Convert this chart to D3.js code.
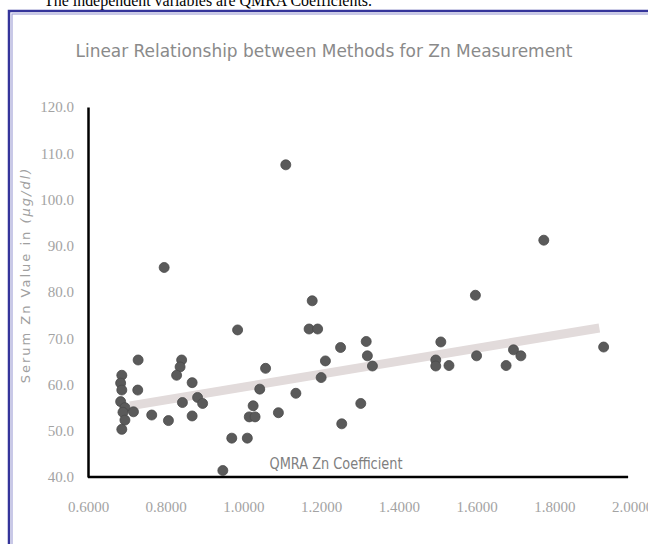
<!DOCTYPE html>
<html>
<head>
<meta charset="utf-8">
<script src="https://cdn.jsdelivr.net/npm/d3@7"></script>
<style>
  body { margin: 0; background: #fff; }
  svg { display: block; }
</style>
</head>
<body>
<div id="chart"></div>
<script>
// QMRA Zn coefficient (x) vs serum Zn value (y)
const qmra = [
  0.687, 0.684, 0.687, 0.684, 0.695, 0.690, 0.695, 0.687, 0.717, 0.729,
  0.728, 0.764, 0.807, 0.796, 0.841, 0.837, 0.828, 0.868, 0.843, 0.882,
  0.895, 0.868, 0.970, 1.010, 0.947, 0.985, 1.025, 1.015, 1.030, 1.042,
  1.057, 1.090, 1.109, 1.135, 1.169, 1.177, 1.191, 1.200, 1.211, 1.250,
  1.253, 1.302, 1.316, 1.319, 1.332, 1.495, 1.495, 1.508, 1.529, 1.597,
  1.600, 1.676, 1.695, 1.714, 1.773, 1.927
];
const serumZn = [
  62.0, 60.3, 58.8, 56.3, 55.0, 54.0, 52.3, 50.3, 54.1, 65.3,
  58.8, 53.4, 52.2, 85.3, 65.3, 63.8, 62.0, 60.4, 56.1, 57.2,
  55.9, 53.2, 48.4, 48.4, 41.4, 71.8, 55.4, 53.0, 53.0, 59.0,
  63.5, 53.9, 107.5, 58.1, 72.0, 78.1, 72.0, 61.5, 65.1, 68.0,
  51.5, 55.9, 69.3, 66.2, 64.0, 65.3, 64.0, 69.2, 64.1, 79.3,
  66.2, 64.1, 67.5, 66.2, 91.2, 68.1
];
// linear trendline: y = slope * x + intercept
const trendSlope = 13.95;
const trendIntercept = 45.5;
const trendRange = [0.708, 1.916];

const xTicks = [0.6, 0.8, 1.0, 1.2, 1.4, 1.6, 1.8, 2.0];
const yTicks = [40, 50, 60, 70, 80, 90, 100, 110, 120];

const width = 648, height = 544;
const svg = d3.select("#chart").append("svg")
  .attr("width", width)
  .attr("height", height);

// page text above the chart box (cut off by the top edge, as in the scan)
svg.append("text")
  .attr("x", 44)
  .attr("y", 6)
  .attr("font-family", "Liberation Serif")
  .attr("font-size", 17)
  .attr("fill", "#000")
  .attr("textLength", 328)
  .attr("lengthAdjust", "spacingAndGlyphs")
  .text("The independent variables are QMRA Coefficients.");

// double blue frame
svg.append("rect")
  .attr("x", 9).attr("y", 11)
  .attr("width", 700).attr("height", 600)
  .attr("fill", "none")
  .attr("stroke", "#34349a")
  .attr("stroke-width", 2.5);
svg.append("rect")
  .attr("x", 12).attr("y", 14)
  .attr("width", 700).attr("height", 600)
  .attr("fill", "none")
  .attr("stroke", "#a5a5d8")
  .attr("stroke-width", 1.2);

const x = d3.scaleLinear().domain([0.6, 2.0]).range([88, 632]);
const y = d3.scaleLinear().domain([40, 120]).range([477, 107]);

svg.append("text")
  .attr("x", 324)
  .attr("y", 57)
  .attr("text-anchor", "middle")
  .attr("font-family", "DejaVu Sans Condensed, DejaVu Sans")
  .attr("font-size", 17)
  .attr("fill", "#8a8a8a")
  .attr("textLength", 497)
  .attr("lengthAdjust", "spacingAndGlyphs")
  .text("Linear Relationship  between Methods for Zn Measurement");

// trendline (drawn under the points)
svg.append("line")
  .attr("x1", x(trendRange[0]))
  .attr("y1", y(trendSlope * trendRange[0] + trendIntercept))
  .attr("x2", x(trendRange[1]))
  .attr("y2", y(trendSlope * trendRange[1] + trendIntercept))
  .attr("stroke", "#e2dbdb")
  .attr("stroke-width", 9);

// axes
const yAxis = svg.append("g")
  .attr("transform", `translate(${x(0.6)},0)`)
  .call(d3.axisLeft(y).tickValues(yTicks).tickSize(0).tickPadding(14)
    .tickFormat(d3.format(".1f")));
const xAxis = svg.append("g")
  .attr("transform", `translate(0,${y(40)})`)
  .call(d3.axisBottom(x).tickValues(xTicks).tickSize(0).tickPadding(24)
    .tickFormat(d3.format(".4f")));

[yAxis, xAxis].forEach(g => {
  g.select(".domain").attr("stroke", "#000").attr("stroke-width", 2.5);
  g.selectAll("text")
    .attr("font-family", "Liberation Serif")
    .attr("font-size", 15)
    .attr("fill", "#a3a3a3");
});
xAxis.select(".domain").attr("d", `M${x(0.6)},0H${x(1.99)}`);

// points
svg.append("g").selectAll("circle")
  .data(qmra.map((d, i) => [d, serumZn[i]]))
  .enter().append("circle")
  .attr("cx", d => x(d[0]))
  .attr("cy", d => y(d[1]))
  .attr("r", 5)
  .attr("fill", "#5a5a5a")
  .attr("stroke", "#4a4a4a")
  .attr("stroke-width", 0.8);

// axis titles
svg.append("text")
  .attr("x", 336)
  .attr("y", 469)
  .attr("text-anchor", "middle")
  .attr("font-family", "DejaVu Sans Condensed, DejaVu Sans")
  .attr("font-size", 15)
  .attr("fill", "#7f7f7f")
  .attr("textLength", 133)
  .attr("lengthAdjust", "spacingAndGlyphs")
  .text("QMRA Zn Coefficient");

const yTitle = svg.append("text")
  .attr("transform", "translate(30,275) rotate(-90)")
  .attr("text-anchor", "middle")
  .attr("font-family", "DejaVu Sans")
  .attr("font-size", 13)
  .attr("letter-spacing", 2)
  .attr("fill", "#a0a0a0");
yTitle.append("tspan").text("Serum Zn Value in ");
yTitle.append("tspan").attr("font-style", "italic").text("(\u00b5g/dl)");
</script>
</body>
</html>
